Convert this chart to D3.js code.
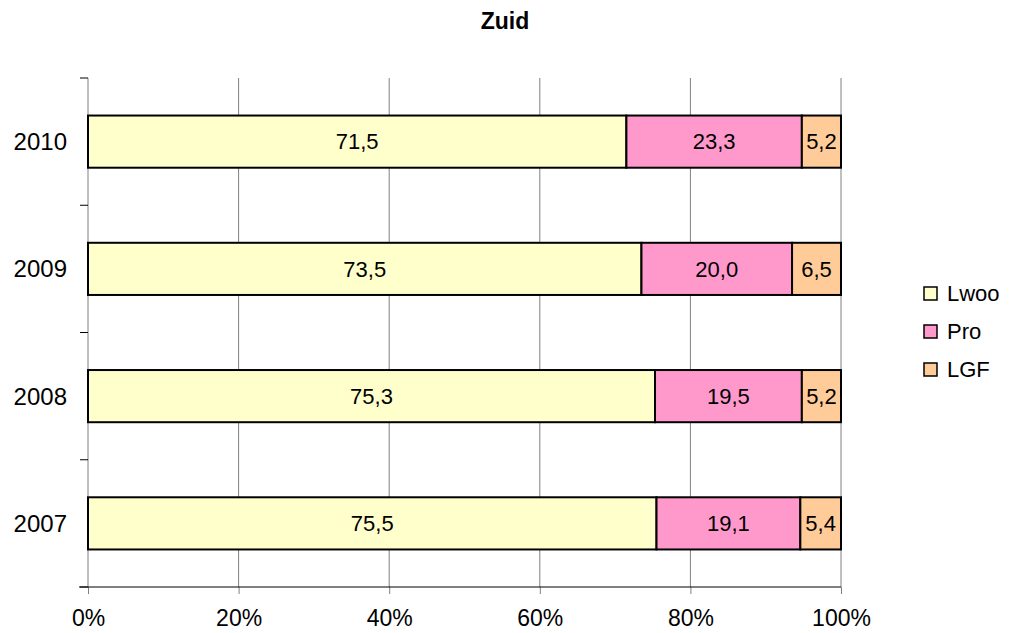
<!DOCTYPE html>
<html>
<head>
<meta charset="utf-8">
<script src="https://cdn.jsdelivr.net/npm/d3@7"></script>
<style>
  body { margin: 0; background: #fff; }
  svg { font-family: "Liberation Sans", Arial, sans-serif; }
</style>
</head>
<body>
<div id="chart"></div>
<script>
// Data
const years = ["2010", "2009", "2008", "2007"];
const seriesNames = ["Lwoo", "Pro", "LGF"];
const lwoo = [71.5, 73.5, 75.3, 75.5];
const pro = [23.3, 20.0, 19.5, 19.1];
const lgf = [5.2, 6.5, 5.2, 5.4];
const xTicks = [0, 20, 40, 60, 80, 100];
const colors = ["#FFFFCC", "#FF99CC", "#FFCC99"];

const rows = years.map((y, i) => ({ year: y, Lwoo: lwoo[i], Pro: pro[i], LGF: lgf[i] }));

const width = 1009;
const height = 633;
const margin = { top: 78, right: 168, bottom: 46, left: 88 };

const svg = d3.select("#chart")
    .append("svg")
    .attr("width", width)
    .attr("height", height);

// Scales
const x = d3.scaleLinear()
    .domain([0, 100])
    .range([margin.left, width - margin.right]);

const y = d3.scaleBand()
    .domain(years)
    .range([margin.top, height - margin.bottom])
    .padding(0);

const color = d3.scaleOrdinal()
    .domain(seriesNames)
    .range(colors);

const fmt = d3.formatLocale({ decimal: ",", thousands: ".", grouping: [3], currency: ["", ""] }).format(".1f");

// Gridlines
svg.append("g")
    .selectAll("line")
    .data(xTicks.slice(1))
    .join("line")
    .attr("x1", d => x(d))
    .attr("x2", d => x(d))
    .attr("y1", margin.top)
    .attr("y2", height - margin.bottom)
    .attr("stroke", "#808080")
    .attr("stroke-width", 1);

// Y axis line and ticks at category boundaries
const yEdges = years.map(d => y(d)).concat([y.range()[1]]);
svg.append("line")
    .attr("x1", margin.left)
    .attr("x2", margin.left)
    .attr("y1", margin.top)
    .attr("y2", height - margin.bottom)
    .attr("stroke", "#808080");

svg.append("g")
    .selectAll("line")
    .data(yEdges)
    .join("line")
    .attr("x1", margin.left - 8)
    .attr("x2", margin.left)
    .attr("y1", d => d)
    .attr("y2", d => d)
    .attr("stroke", "#000");

svg.append("g")
    .selectAll("text")
    .data(years)
    .join("text")
    .attr("x", 67)
    .attr("y", d => y(d) + y.bandwidth() / 2)
    .attr("dy", "0.35em")
    .attr("text-anchor", "end")
    .style("font-size", "24px")
    .attr("fill", "#000")
    .text(d => d);

// Stacked bars
const stack = d3.stack().keys(seriesNames)(rows);
const barH = y.bandwidth() * 0.41;

const layer = svg.append("g")
    .selectAll("g")
    .data(stack)
    .join("g")
    .attr("fill", d => color(d.key));

layer.selectAll("rect")
    .data(d => d)
    .join("rect")
    .attr("x", d => x(d[0]))
    .attr("y", d => y(d.data.year) + (y.bandwidth() - barH) / 2)
    .attr("width", d => x(d[1]) - x(d[0]))
    .attr("height", barH)
    .attr("stroke", "#000")
    .attr("stroke-width", 2);

layer.selectAll("text")
    .data(d => d)
    .join("text")
    .attr("x", d => (x(d[0]) + x(d[1])) / 2)
    .attr("y", d => y(d.data.year) + y.bandwidth() / 2)
    .attr("dy", "0.35em")
    .attr("text-anchor", "middle")
    .attr("fill", "#000")
    .style("font-size", "22px")
    .text(d => fmt(d[1] - d[0]));

// X axis
const xAxis = d3.axisBottom(x)
    .tickValues(xTicks)
    .tickFormat(d => d + "%")
    .tickSize(7)
    .tickPadding(16)
    .tickSizeOuter(0);

const gx = svg.append("g")
    .attr("transform", `translate(0,${height - margin.bottom})`)
    .call(xAxis);

gx.select(".domain").remove();
gx.append("line")
    .attr("x1", margin.left - 9)
    .attr("x2", x(100))
    .attr("stroke", "#000");
gx.selectAll(".tick line").attr("stroke", "#808080");
gx.selectAll("text")
    .attr("fill", "#000")
    .style("font-size", "23px")
    .style("font-family", "'Liberation Sans', Arial, sans-serif");

// Title
svg.append("text")
    .attr("x", 505)
    .attr("y", 29)
    .attr("text-anchor", "middle")
    .style("font-size", "23px")
    .style("font-weight", "bold")
    .attr("fill", "#000")
    .text("Zuid");

// Legend
const legend = svg.append("g")
    .selectAll("g")
    .data(seriesNames)
    .join("g")
    .attr("transform", (d, i) => `translate(924,${287 + i * 38})`);

legend.append("rect")
    .attr("width", 13)
    .attr("height", 13)
    .attr("fill", d => color(d))
    .attr("stroke", "#000")
    .attr("stroke-width", 1.5);

legend.append("text")
    .attr("x", 23)
    .attr("y", 6.5)
    .attr("dy", "0.35em")
    .attr("fill", "#000")
    .style("font-size", "22px")
    .text(d => d);
</script>
</body>
</html>
